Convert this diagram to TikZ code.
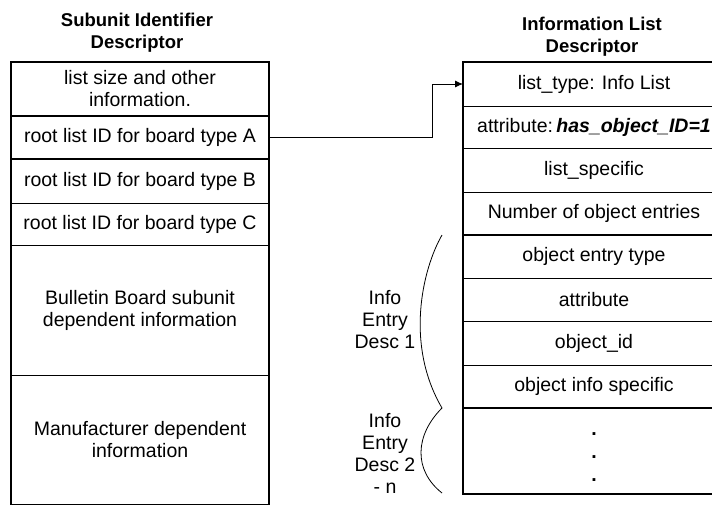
\documentclass[tikz,border=0pt]{standalone}
\usepackage{fontspec}
\setmainfont{Liberation Sans}
\usetikzlibrary{arrows.meta}

\tikzset{
  body/.style={font=\fontsize{19.5}{22}\selectfont},
  heading/.style={font=\fontsize{18.5}{22}\selectfont\bfseries, align=center},
  leftrow/.style={draw, line width=0.9pt, body, align=center, inner sep=0pt, outer sep=0pt,
                  minimum width=258pt},
  rightrow/.style={draw, line width=0.9pt, body, align=center, inner sep=0pt, outer sep=0pt,
                   minimum width=262pt},
  frame/.style={line width=1.6pt},
  sidelabel/.style={body, align=center},
  link/.style={line width=0.9pt, -{Latex[length=8pt,width=7pt]}},
  bracecurve/.style={line width=0.8pt}
}

\begin{document}
\begin{tikzpicture}[x=1pt,y=-1pt]
  \useasboundingbox (0,0) rectangle (712,504);
  \clip (0,0) rectangle (712,504);
  \fill[white] (0,0) rectangle (712,504);

  % headings
  \node[heading] (hl) at (137,33) {Subunit Identifier\\Descriptor};
  \node[heading] (hr) at (592,36.5) {Information List\\Descriptor};

  % Subunit Identifier Descriptor rows
  \node[leftrow, minimum height=54pt]  (r0) at (140,89)    {list size and other\\information.};
  \node[leftrow, minimum height=43pt]  (rA) at (140,137.5) {root list ID for board type A};
  \node[leftrow, minimum height=44pt]  (rB) at (140,181)   {root list ID for board type B};
  \node[leftrow, minimum height=42pt]  (rC) at (140,224)   {root list ID for board type C};
  \node[leftrow, minimum height=130pt] (rD) at (140,310)   {Bulletin Board subunit\\dependent information};
  \node[leftrow, minimum height=130pt] (rM) at (140,440)   {Manufacturer dependent\\information};
  \draw[frame] (r0.north west) rectangle (rM.south east);
  \draw[frame] (rA.north west) rectangle (rA.south east);

  % Information List Descriptor rows
  \node[rightrow, minimum height=44pt] (lt)  at (594,84)    {list\_type: Info List};
  \node[rightrow, minimum height=42pt] (at)  at (594,127)   {attribute:\,\textbf{\textit{has\_object\_ID=1}}};
  \node[rightrow, minimum height=44pt] (ls)  at (594,170)   {list\_specific};
  \node[rightrow, minimum height=43pt] (ne)  at (594,213.5) {Number of object entries};
  \node[rightrow, minimum height=43pt] (oet) at (594,256.5) {object entry type};
  \node[rightrow, minimum height=43pt] (oa)  at (594,299.5) {attribute};
  \node[rightrow, minimum height=44pt] (oid) at (594,343)   {object\_id};
  \node[rightrow, minimum height=43pt] (ois) at (594,386.5) {object info specific};
  \node[rightrow, minimum height=86pt, font=\fontsize{19.5}{23}\selectfont\bfseries] (dt) at (594,451)
       {\rule{0pt}{14pt}.\\.\\.};
  \draw[frame] (lt.north west) rectangle (dt.south east);
  \draw[frame] (ne.south west) -- (ne.south east);
  \draw[frame] (ois.south west) -- (ois.south east);

  % pointer from root list A to the information list
  \draw[link] (rA.east) -- ++(163,0) |- (lt.west);

  % braces grouping the entry descriptors
  \coordinate (b1) at (442,235);
  \coordinate (b2) at (442,408);
  \coordinate (b3) at (442,493);
  \draw[bracecurve] (b1) .. controls (422,270) and (405,345) .. (b2);
  \draw[bracecurve] (b2) .. controls (415,435) and (413,470) .. (b3);

  \node[sidelabel] (d1) at (385,320) {Info\\Entry\\Desc 1};
  \node[sidelabel] (d2) at (385,453) {Info\\Entry\\Desc 2\\- n};
\end{tikzpicture}
\end{document}
